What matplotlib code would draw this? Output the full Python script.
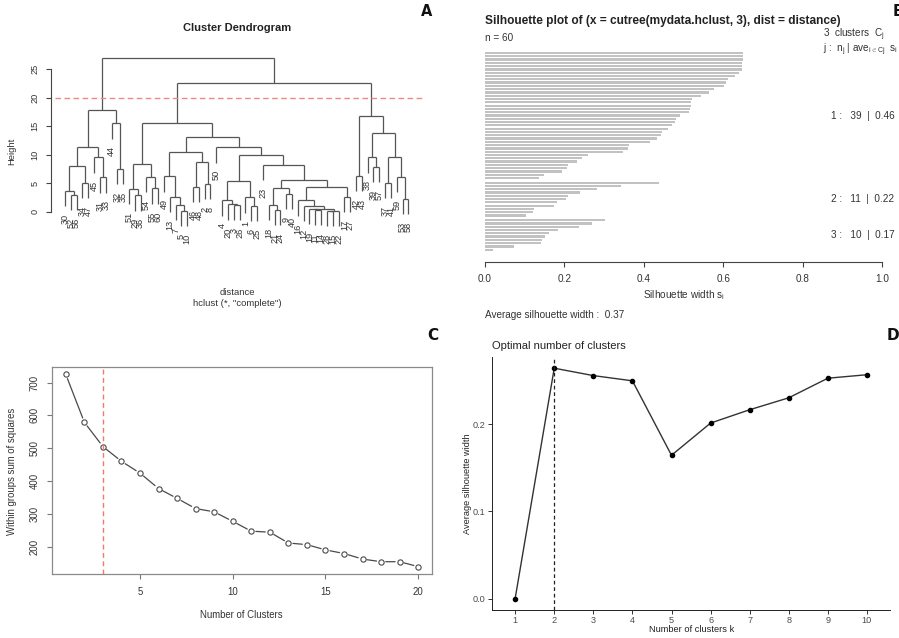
import matplotlib
matplotlib.use('Agg')
import matplotlib.pyplot as plt
import numpy as np

W, H = 899, 638
plt.rcParams['font.family'] = ['Liberation Sans', 'DejaVu Sans']
plt.rcParams['mathtext.fontset'] = 'custom'
plt.rcParams['mathtext.rm'] = 'Liberation Sans'
plt.rcParams['mathtext.it'] = 'Liberation Sans'
plt.rcParams['mathtext.bf'] = 'Liberation Sans:bold'

# ---------------- data ----------------
# Panel A: hierarchical clustering (R merge convention: negative = leaf, positive = earlier merge)
leaf_order = [30, 52, 56, 34, 47, 45, 31, 33, 44, 32, 35,
              51, 29, 36, 54, 55, 60, 49, 13, 7, 5, 10, 46, 48, 2, 8, 50,
              4, 20, 3, 26, 1, 6, 25, 23, 18, 21, 24, 9, 40, 16, 12, 19,
              11, 14, 28, 15, 22, 17, 27,
              42, 43, 38, 39, 57, 37, 41, 59, 53, 58]
merge_a = [-5, -28, 2, -11, -21, -19, 6, -6, -12, -7, -3, -18, -20, -16, -4,
           -53, -1, -13, -17, -29, -52, -9, -30, -51, -55, 12, -46, 14, -2,
           -34, -37, 15, 26, -31, -54, -59, -49, -42, -32, -39, 23, -23, 24,
           27, -45, -38, 31, 32, 37, -50, 41, 49, 46, -44, 43, 38, 51, 55, 57]
merge_b = [-10, -15, -22, -14, -24, 4, 3, -25, 7, 1, -26, 5, 11, 9, 13,
           -58, 8, 10, -27, -36, -56, -40, 21, 20, -60, 22, -48, 19, -8,
           -47, -41, 17, 28, -33, 25, 16, 18, -43, -35, -57, 30, 33, 35,
           29, 34, 40, 36, 42, 44, 48, 45, 50, 47, 39, 52, 53, 54, 56, 58]
merge_h = [0.10, 0.15, 0.20, 0.30, 0.30, 0.45, 0.50, 1.05, 1.05, 1.20, 1.20,
           1.20, 1.30, 2.00, 2.00, 2.30, 2.50, 2.60, 2.60, 2.90, 3.00, 3.10,
           3.70, 4.00, 4.10, 4.10, 4.40, 4.40, 4.90, 5.10, 5.10, 5.30, 5.50,
           6.00, 6.10, 6.10, 6.20, 6.30, 7.50, 7.90, 8.00, 8.20, 8.30, 8.70,
           9.50, 9.50, 9.60, 10.00, 10.50, 11.30, 11.40, 13.10, 13.80, 15.50,
           15.50, 16.80, 17.90, 22.60, 27.00]
cut_height = 20
dend_yticks = [0, 5, 10, 15, 20, 25]

# Panel B: silhouette widths per cluster (sorted)
sil_c1 = [0.649, 0.649, 0.649, 0.648, 0.648, 0.647, 0.640, 0.630, 0.612, 0.606,
          0.601, 0.577, 0.564, 0.543, 0.522, 0.520, 0.518, 0.516, 0.513, 0.492,
          0.480, 0.479, 0.471, 0.460, 0.446, 0.443, 0.433, 0.417, 0.363, 0.360,
          0.349, 0.261, 0.244, 0.232, 0.209, 0.208, 0.194, 0.148, 0.137]
sil_c2 = [0.4375, 0.343, 0.282, 0.2405, 0.2087, 0.2036, 0.182, 0.1735, 0.124,
          0.1223, 0.103]
sil_c3 = [0.3017, 0.269, 0.2363, 0.1844, 0.1609, 0.1517, 0.145, 0.1408, 0.0729,
          0.020]
sil_xticks = [0.0, 0.2, 0.4, 0.6, 0.8, 1.0]

# Panel C: elbow
wss_k = list(range(1, 21))
wss = [725, 579, 505, 460, 424, 377, 347, 316, 306, 277, 247, 244, 211, 206,
       190, 179, 162, 154, 154, 139]
elbow_k = 3

# Panel D: average silhouette vs k
opt_k = list(range(1, 11))
opt_sil = [0.0, 0.2645, 0.256, 0.250, 0.1645, 0.2015, 0.2168, 0.2305, 0.253, 0.257]
best_k = 2

# ---------------- figure ----------------
fig = plt.figure(figsize=(W / 100, H / 100), dpi=100)


def add_ax(l, t, r, b):
    return fig.add_axes([l / W, 1 - b / H, (r - l) / W, (b - t) / H])


def ftext(x, y, s, **kw):
    fig.text(x / W, 1 - y / H, s, **kw)


TXT = '#333333'

# ===== Panel A: dendrogram =====
axA = add_ax(51, 40, 430, 260)
axA.set_xlim((51 - 65) / 5.82, (430 - 65) / 5.82)
axA.set_ylim((211.7 - 260) / 5.707, (211.7 - 40) / 5.707)
hang = 0.1 * (max(merge_h) - min(merge_h))
xpos = {lab: i for i, lab in enumerate(leaf_order)}
node_x, node_h = [], []
lc = '#555555'
for a, b, h in zip(merge_a, merge_b, merge_h):
    xs = []
    for c in (a, b):
        if c < 0:
            x = xpos[-c]
            bot = h - hang
            axA.plot([x, x], [h, bot], color=lc, lw=0.9, solid_capstyle='butt')
            axA.annotate(str(-c), (x, bot), xytext=(0, -5.5), textcoords='offset points',
                         rotation=90, ha='center', va='top', fontsize=6.6, color=TXT)
        else:
            x = node_x[c - 1]
            axA.plot([x, x], [h, node_h[c - 1]], color=lc, lw=0.9, solid_capstyle='butt')
        xs.append(x)
    axA.plot(xs, [h, h], color=lc, lw=0.9, solid_capstyle='butt')
    node_x.append(sum(xs) / 2)
    node_h.append(h)
axA.plot([(55 - 65) / 5.82, (423 - 65) / 5.82], [cut_height, cut_height],
         color='#f08888', lw=1.0, ls=(0, (4, 2.5)))
for s in ['top', 'right', 'bottom']:
    axA.spines[s].set_visible(False)
axA.spines['left'].set_bounds(dend_yticks[0], dend_yticks[-1])
axA.spines['left'].set_color('#444444')
axA.spines['left'].set_linewidth(0.8)
axA.set_xticks([])
axA.set_yticks(dend_yticks)
axA.set_yticklabels([str(t) for t in dend_yticks], rotation=90, va='center')
axA.tick_params(axis='y', length=3.6, width=0.8, color='#444444', labelsize=6.6,
                labelcolor=TXT, pad=4.5)
ftext(237, 27.6, 'Cluster Dendrogram', ha='center', va='center', fontsize=8,
      fontweight='bold', color='#222222')
ftext(12, 151, 'Height', ha='center', va='center', rotation=90, fontsize=6.8, color=TXT)
ftext(237, 292.3, 'distance', ha='center', va='center', fontsize=6.8, color=TXT)
ftext(237, 303.7, 'hclust (*, "complete")', ha='center', va='center', fontsize=6.8, color=TXT)
ftext(427, 12, 'A', ha='center', va='center', fontsize=10.5, fontweight='bold',
      family='DejaVu Sans', color='#111111')

# ===== Panel B: silhouette plot =====
axB = add_ax(484.7, 40, 882.3, 261.7)
clusters = [sil_c1, sil_c2, sil_c3]
gap = 0.4
pos, vals = [], []
start = 0
for k, cv in enumerate(clusters):
    pos += [start + k * gap + j for j in range(len(cv))]
    vals += cv
    start += len(cv)
axB.barh(pos, vals, height=0.68, left=0, color='#c2c2c2', edgecolor='none')
axB.set_xlim(0, 1)
axB.set_ylim((261.7 - 53) / 3.29, (40 - 53) / 3.29)
for s in ['top', 'right', 'left']:
    axB.spines[s].set_visible(False)
axB.spines['bottom'].set_bounds(0, 1)
axB.spines['bottom'].set_color('#444444')
axB.spines['bottom'].set_linewidth(0.8)
axB.set_yticks([])
axB.set_xticks(sil_xticks)
axB.set_xticklabels([f'{t:.1f}' for t in sil_xticks])
axB.tick_params(axis='x', length=3.6, width=0.8, color='#444444', labelsize=7.2,
                labelcolor=TXT, pad=5.2)
ftext(485, 20.7, 'Silhouette plot of (x = cutree(mydata.hclust, 3), dist = distance)',
      ha='left', va='center', fontsize=8.6, fontweight='bold', color='#222222')
ftext(485, 38.3, f'n = {len(vals)}', ha='left', va='center', fontsize=7.2, color=TXT)
ftext(823, 35, r'3  clusters  $\mathrm{C_j}$', ha='left', va='center', fontsize=7.2, color=TXT)
ftext(823, 50, r'j :  $\mathrm{n_j}$ | $\mathrm{ave_{i\in Cj}}$  $\mathrm{s_i}$',
      ha='left', va='center', fontsize=7.2, color=TXT)
row_y = [116, 199, 235]
for k, cv in enumerate(clusters):
    ftext(831, row_y[k], f'{k + 1} :   {len(cv)}  |  {np.mean(cv):.2f}',
          ha='left', va='center', fontsize=7.2, color=TXT)
ftext(683.5, 295, r'Silhouette width $\mathrm{s_i}$', ha='center', va='center',
      fontsize=7.2, color=TXT)
ftext(485, 315, f'Average silhouette width :  {np.mean(vals):.2f}', ha='left',
      va='center', fontsize=7.2, color=TXT)
ftext(892.5, 12, 'B', ha='left', va='center', fontsize=10.5, fontweight='bold',
      family='DejaVu Sans', color='#111111')

# ===== Panel C: elbow plot =====
axC = add_ax(51.7, 366.7, 432.3, 574.3)
axC.set_xlim(0.24, 20.76)
axC.set_ylim(115.6, 748.4)
for i in range(len(wss_k) - 1):
    axC.annotate('', xy=(wss_k[i + 1], wss[i + 1]), xytext=(wss_k[i], wss[i]),
                 arrowprops=dict(arrowstyle='-', color='#4a4a4a', lw=0.9,
                                 shrinkA=3.3, shrinkB=3.3))
axC.plot(wss_k, wss, 'o', mfc='none', mec='#4a4a4a', ms=3.8, mew=0.8)
axC.axvline(elbow_k, color='#f07a6a', lw=1.0, ls=(0, (3.5, 2.5)))
for s in axC.spines.values():
    s.set_color('#8a8a8a')
    s.set_linewidth(0.9)
axC.set_xticks([5, 10, 15, 20])
axC.set_yticks(list(range(200, 701, 100)))
axC.set_yticklabels([str(t) for t in range(200, 701, 100)], rotation=90, va='center')
axC.tick_params(length=3.6, width=0.8, color='#777777', labelsize=6.9,
                labelcolor=TXT, pad=5.2)
ftext(241, 615, 'Number of Clusters', ha='center', va='center', fontsize=6.9, color=TXT)
ftext(11.7, 471, 'Within groups sum of squares', ha='center', va='center',
      rotation=90, fontsize=6.9, color=TXT)
ftext(432.7, 335.3, 'C', ha='center', va='center', fontsize=11, fontweight='bold',
      family='DejaVu Sans', color='#111111')

# ===== Panel D: optimal number of clusters =====
axD = add_ax(491.7, 356.7, 890.4, 610)
axD.set_xlim(0.4, 10.6)
axD.set_ylim(-0.0132, 0.2777)
axD.plot(opt_k, opt_sil, color='#333333', lw=1.0)
axD.plot(opt_k, opt_sil, 'o', color='black', ms=3.0)
axD.axvline(best_k, color='#222222', lw=0.9, ls=(0, (3, 2.2)))
for s in ['top', 'right']:
    axD.spines[s].set_visible(False)
for s in ['left', 'bottom']:
    axD.spines[s].set_color('#222222')
    axD.spines[s].set_linewidth(0.7)
axD.set_xticks(opt_k)
axD.set_yticks([0.0, 0.1, 0.2])
axD.set_yticklabels(['0.0', '0.1', '0.2'])
axD.tick_params(length=2.8, width=0.7, color='#333333', labelsize=6.6,
                labelcolor='#4d4d4d', pad=1.6)
ftext(491.7, 346, 'Optimal number of clusters', ha='left', va='center', fontsize=8,
      color='#222222')
ftext(691.3, 629.3, 'Number of clusters k', ha='center', va='center', fontsize=6.7,
      color='#222222')
ftext(467.3, 483.3, 'Average silhouette width', ha='center', va='center', rotation=90,
      fontsize=6.6, color='#222222')
ftext(893, 336, 'D', ha='center', va='center', fontsize=11, fontweight='bold',
      family='DejaVu Sans', color='#111111')

fig.savefig('out.png', dpi=100)
